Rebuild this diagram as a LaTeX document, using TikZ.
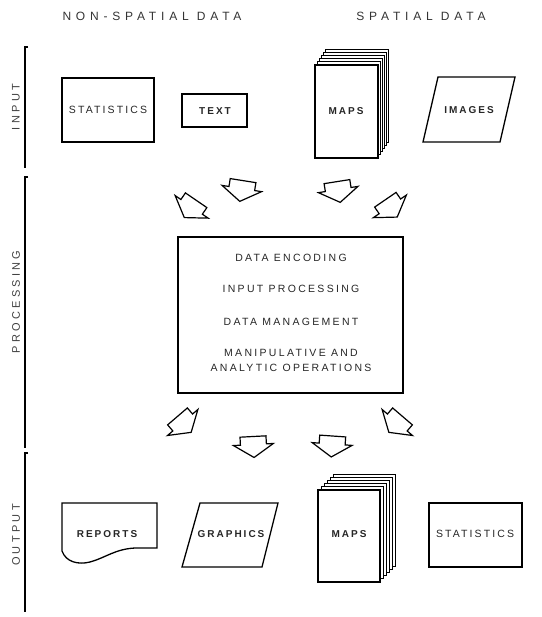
\documentclass[tikz,border=0pt]{standalone}
\usepackage{fontspec}
\newfontfamily\headfont[LetterSpace=40]{Liberation Sans}
\newfontfamily\sidefont[LetterSpace=30]{Liberation Sans}
\newfontfamily\boxfont[LetterSpace=20]{Liberation Sans}
\newfontfamily\procfont[LetterSpace=22]{Liberation Sans}
\tikzset{
  boxline/.style={draw=black, line width=1.3pt, line join=miter},
  pageline/.style={draw=black, fill=white, line width=0.9pt, line join=miter},
  axisline/.style={draw=black, line width=1.1pt},
  headtext/.style={text=black!80, font=\headfont\fontsize{12}{14}\selectfont},
  sidetext/.style={text=black!75, rotate=90, font=\sidefont\fontsize{11}{13}\selectfont},
  boxtext/.style={text=black!85, font=\boxfont\fontsize{10.5}{12}\selectfont},
  boldtext/.style={text=black!85, font=\boxfont\bfseries\fontsize{10}{12}\selectfont},
  proctext/.style={text=black!85, align=center, font=\procfont\fontsize{10.5}{15}\selectfont},
  blockarrow/.pic={
    \path[draw=black, fill=white, line width=1.2pt, line join=miter]
      (-13,10) -- (13,10) -- (13,2) -- (20,2) -- (0,-11) -- (-20,2)
      -- (-13,2) -- cycle;
  }
}
\begin{document}
\begin{tikzpicture}[y=1pt, x=1pt, yscale=-1, inner sep=0pt, outer sep=0pt]
\useasboundingbox (0,0) rectangle (541,617);
  % column headings
  \path (152,16) node[headtext] (txtnonspatial) {NON-SPATIAL DATA};
  \path (421,16) node[headtext] (txtspatial) {SPATIAL DATA};
  % stage axis
  \path[axisline] (28,47) -- (25,47) -- (25,168);
  \path[axisline] (28,177) -- (25,177) -- (25,448);
  \path[axisline] (28,453) -- (25,453) -- (25,612);
  \path (16,107) node[sidetext] (txtinput) {INPUT};
  \path (16,302) node[sidetext] (txtprocessing) {PROCESSING};
  \path (16,535) node[sidetext] (txtoutput) {OUTPUT};
  % input row
  \path[boxline] (62,78) rectangle (154,142);
  \path (108,110) node[boxtext] (txtstatsin) {STATISTICS};
  \path[boxline] (182,94) rectangle (247,127);
  \path (215,111) node[boldtext] (txttext) {TEXT};
  \path[pageline] (325,49) rectangle (388,142);
  \path[pageline] (323,52.2) rectangle (386,145.2);
  \path[pageline] (321,55.4) rectangle (384,148.4);
  \path[pageline] (319,58.6) rectangle (382,151.6);
  \path[pageline] (317,61.8) rectangle (380,154.8);
  \path[pageline, line width=1.3pt] (315,65) rectangle (378,158);
  \path (346,111) node[boldtext] (txtmapsin) {MAPS};
  \path[boxline] (423,142) -- (500,142) -- (515,77) -- (438,77) -- cycle;
  \path (469,110) node[boldtext] (txtimages) {IMAGES};
  % arrows into processing
  \pic[rotate=-34.4] at (190.5,208.5) {blockarrow};
  \pic[rotate=-9] at (241.5,190.5) {blockarrow};
  \pic[rotate=9] at (338.5,191.5) {blockarrow};
  \pic[rotate=34.4] at (391,208) {blockarrow};
  % processing
  \path[boxline] (178,237) rectangle (403,393);
  \path (291,258) node[proctext] (txtencoding) {DATA ENCODING};
  \path (291,289) node[proctext] (txtinputproc) {INPUT PROCESSING};
  \path (291,322) node[proctext] (txtmanagement) {DATA MANAGEMENT};
  \path (291,360.5) node[proctext] (txtmanip) {MANIPULATIVE AND\\ANALYTIC OPERATIONS};
  % arrows out of processing
  \pic[rotate=40.6] at (184,424) {blockarrow};
  \pic[rotate=3] at (253.5,446.5) {blockarrow};
  \pic[rotate=-4] at (332,446) {blockarrow};
  \pic[rotate=-40.6] at (396,424) {blockarrow};
  % output row
  \path[boxline] (62,503) -- (157,503) -- (157,548) -- (135,548)
    .. controls (115,549) and (105,558) .. (90,562)
    .. controls (78,565) and (66,562) .. (62,551) -- cycle;
  \path (107,534) node[boldtext] (txtreports) {REPORTS};
  \path[boxline] (182,567) -- (262,567) -- (278,503) -- (200,503) -- cycle;
  \path (231,534) node[boldtext] (txtgraphics) {GRAPHICS};
  \path[pageline] (333,474) rectangle (395,566);
  \path[pageline] (330,477.2) rectangle (392,569.2);
  \path[pageline] (327,480.4) rectangle (389,572.4);
  \path[pageline] (324,483.6) rectangle (386,575.6);
  \path[pageline] (321,486.8) rectangle (383,578.8);
  \path[pageline, line width=1.3pt] (318,490) rectangle (380,582);
  \path (349,534) node[boldtext] (txtmapsout) {MAPS};
  \path[boxline] (429,503) rectangle (522,567);
  \path (475,534) node[boxtext] (txtstatsout) {STATISTICS};
\end{tikzpicture}
\end{document}
